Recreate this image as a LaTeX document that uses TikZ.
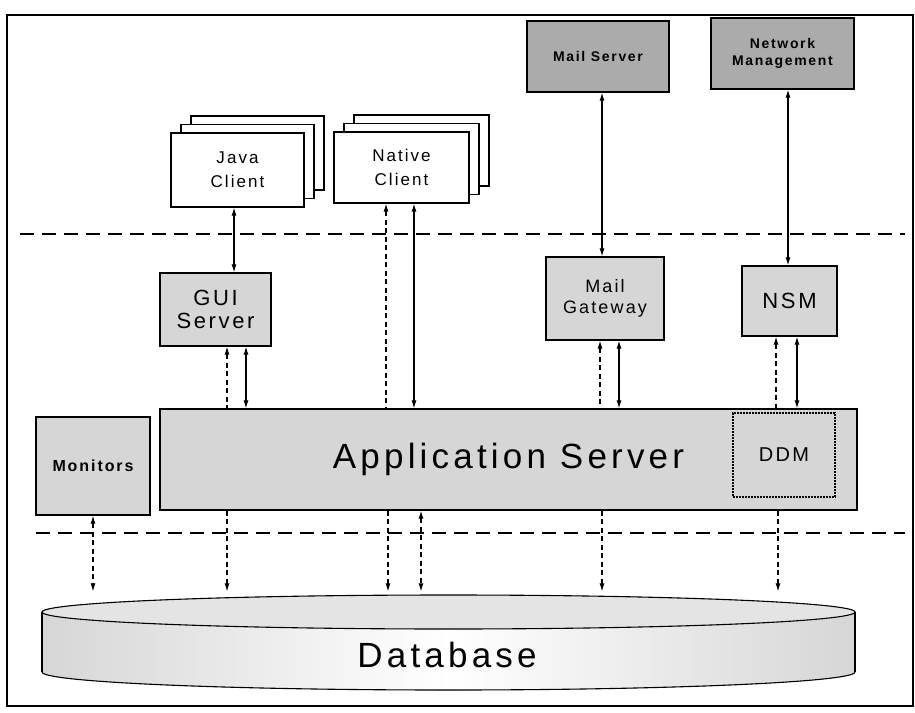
\documentclass[tikz,border=0pt]{standalone}
\usepackage{fontspec}
\setmainfont{Liberation Sans}[LetterSpace=12]
\usepackage{tikz}
\usetikzlibrary{arrows.meta,positioning,calc,shadows}
\definecolor{softdot}{HTML}{D6D6D6}
\definecolor{darkdot}{HTML}{ABABAB}
\definecolor{paledot}{HTML}{E4E4E4}
\tikzset{
  block/.style={draw, line width=1.3pt, align=center, inner sep=2pt},
  client/.style={block, fill=white, font=\fontsize{17}{24}\selectfont,
    copy shadow={shadow xshift=20pt, shadow yshift=17pt, line width=1.3pt},
    copy shadow={shadow xshift=10pt, shadow yshift=8.5pt, line width=1.3pt}},
  server/.style={block, fill=softdot, font=\fontsize{18}{21}\selectfont},
  extern/.style={block, fill=darkdot, font=\bfseries\fontsize{14}{17}\selectfont},
  ddmbox/.style={draw, line width=1.6pt, dash pattern=on 1.6pt off 1.4pt, fill=softdot,
    font=\fontsize{20}{22}\selectfont},
  bigtxt/.style={font=\fontsize{35}{40}\selectfont},
  dlink/.style={dash pattern=on 5pt off 3.5pt, line width=1.1pt},
  tier/.style={dash pattern=on 14pt off 8pt, line width=1.1pt},
  dbbody/.style={left color=softdot, right color=softdot, middle color=white}
}
\begin{document}
\begin{tikzpicture}[x=1pt,y=-1pt,>={Latex[length=8pt,width=5pt]},line width=1.1pt]
  \useasboundingbox (0,0) rectangle (915,712);
  \draw[line width=1.6pt] (7,15) rectangle (913,706);

  % tier separators
  \draw[tier] (20,234) -- (905,234);
  \draw[tier] (36,533) -- (905,533);

  % clients and outside services
  \node[client, minimum width=133pt, minimum height=74pt] (java) at (237.5,170) {Java\\Client};
  \node[client, minimum width=135pt, minimum height=71pt] (native) at (401.5,167.5) {Native\\Client};
  \node[extern, minimum width=142pt, minimum height=71pt] (mailsrv) at (598,56.5) {Mail Server};
  \node[extern, minimum width=143pt, minimum height=71pt] (netmgmt) at (782.5,53.5) {Network\\Management};

  % middle tier
  \node[server, font=\fontsize{22}{23}\selectfont, minimum width=111pt, minimum height=73pt] (gui) at (215.5,309.5) {GUI\\Server};
  \node[server, minimum width=118pt, minimum height=83pt] (mailgw) at (605,298.5) {Mail\\Gateway};
  \node[server, font=\fontsize{22}{24}\selectfont, minimum width=95pt, minimum height=70pt] (nsm) at (789.5,301) {NSM};
  \node[server, bigtxt, minimum width=697pt, minimum height=101pt] (app) at (508.5,459.5) {Application Server};
  \node[ddmbox, minimum width=102pt, minimum height=84pt] (ddm) at (784,455) {DDM};
  \node[server, font=\bfseries\fontsize{16}{18}\selectfont, minimum width=114pt, minimum height=98pt] (mon) at (93,466) {Monitors};

  % database cylinder
  \fill[dbbody] (42,612) -- (42,672)
    arc[start angle=180, end angle=360, x radius=406.5pt, y radius=18pt] -- (855,612)
    arc[start angle=0, end angle=180, x radius=406.5pt, y radius=17pt] -- cycle;
  \draw[fill=paledot] (448.5,612) ellipse[x radius=406.5pt, y radius=17pt];
  \draw (42,672) arc[start angle=180, end angle=360, x radius=406.5pt, y radius=18pt];
  \draw[line width=1.8pt] (42,612) -- (42,672) (855,612) -- (855,672);
  \node[minimum width=813pt, minimum height=95pt, inner sep=0] (db) at (448.5,642.5) {};
  \node[bigtxt] (dblabel) at (447,655) {Database};

  % links between the tiers
  \draw[<->] ([xshift=-3.5pt]java.south) -- ([xshift=-3.5pt]java.south |- gui.north);
  \draw[dlink,<-] ([xshift=-15.5pt]native.south) -- ([xshift=-15.5pt]native.south |- app.north);
  \draw[<->] ([xshift=12.5pt]native.south) -- ([xshift=12.5pt]native.south |- app.north);
  \draw[dlink,<-] ([xshift=11.5pt]gui.south) -- ([xshift=11.5pt]gui.south |- app.north);
  \draw[<->] ([xshift=30.5pt]gui.south) -- ([xshift=30.5pt]gui.south |- app.north);
  \draw[<->] ([xshift=-3pt]mailgw.north) -- ([xshift=-3pt]mailgw.north |- mailsrv.south);
  \draw[<->] ([xshift=-1.5pt]nsm.north) -- ([xshift=-1.5pt]nsm.north |- netmgmt.south);
  \draw[dlink,<-] ([xshift=-5pt]mailgw.south) -- ([xshift=-5pt]mailgw.south |- app.north);
  \draw[<->] ([xshift=14pt]mailgw.south) -- ([xshift=14pt]mailgw.south |- app.north);
  \draw[dlink,<-] ([xshift=-13.5pt]nsm.south) -- ([xshift=-13.5pt]nsm.south |- app.north);
  \draw[<->] ([xshift=7.5pt]nsm.south) -- ([xshift=7.5pt]nsm.south |- app.north);

  % down to the database
  \draw[dlink,<->] (mon.south) -- ([yshift=3pt]mon.south |- db.north);
  \draw[dlink,->] ([xshift=11.5pt]gui.south |- app.south) -- ([xshift=11.5pt,yshift=3pt]gui.south |- db.north);
  \draw[dlink,->] ([xshift=-13.5pt]native.south |- app.south) -- ([xshift=-13.5pt,yshift=3pt]native.south |- db.north);
  \draw[dlink,<->] ([xshift=19.5pt]native.south |- app.south) -- ([xshift=19.5pt,yshift=3pt]native.south |- db.north);
  \draw[dlink,->] ([xshift=-3pt]mailgw.south |- app.south) -- ([xshift=-3pt,yshift=3pt]mailgw.south |- db.north);
  \draw[dlink,->] ([xshift=-11.5pt]nsm.south |- app.south) -- ([xshift=-11.5pt,yshift=3pt]nsm.south |- db.north);
\end{tikzpicture}
\end{document}
